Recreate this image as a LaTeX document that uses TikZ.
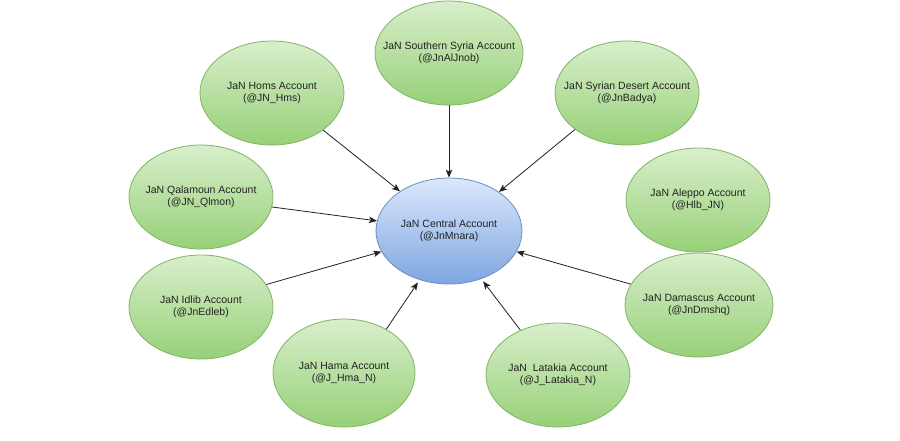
\documentclass[tikz,border=0pt]{standalone}
\usepackage{fontspec}
\setmainfont{Liberation Sans}
\usetikzlibrary{shapes.geometric,arrows.meta}
\definecolor{gtop}{HTML}{D8EFCC}
\definecolor{gbot}{HTML}{97D077}
\definecolor{gline}{HTML}{82B366}
\definecolor{btop}{HTML}{DAE8FC}
\definecolor{bbot}{HTML}{7EA6E0}
\definecolor{bline}{HTML}{6C8EBF}
\definecolor{ink}{HTML}{222222}
\newcommand\twoline[2]{\makebox[0pt][c]{\begin{tabular}{@{}c@{}}#1\\#2\end{tabular}}}
\begin{document}
\begin{tikzpicture}[x=1pt,y=-1pt,
  acct/.style={ellipse, draw=gline, line width=0.8pt, top color=gtop, bottom color=gbot,
    minimum width=144pt, minimum height=104pt, inner sep=0pt,
    font=\fontsize{10.5}{11.7}\selectfont, text=ink},
  central/.style={acct, draw=bline, top color=btop, bottom color=bbot,
    minimum width=146pt, minimum height=106pt},
  link/.style={draw=ink, line width=0.8pt, -{Stealth[length=8pt,width=6.5pt,inset=2pt]}}]
\fill[white] (0,0) rectangle (900,440);
\useasboundingbox (0,0) rectangle (900,440);

\node[acct, minimum width=148pt] (ss) at (449,53) {\twoline{JaN Southern Syria Account}{(@JnAlJnob)}};
\node[acct] (homs) at (272,93) {\twoline{JaN Homs Account}{(@JN\_Hms)}};
\node[acct] (desert) at (627,93) {\twoline{JaN Syrian Desert Account}{(@JnBadya)}};
\node[acct] (qal) at (201,197) {\twoline{JaN Qalamoun Account}{(@JN\_Qlmon)}};
\node[acct] (aleppo) at (698,200) {\twoline{JaN Aleppo Account}{(@Hlb\_JN)}};
\node[central] (cen) at (449,231) {\twoline{JaN Central Account}{(@JnMnara)}};
\node[acct] (idlib) at (201,307) {\twoline{JaN Idlib Account}{(@JnEdleb)}};
\node[acct, minimum width=148pt] (dam) at (699,305) {\twoline{JaN Damascus Account}{(@JnDmshq)}};
\node[acct, minimum width=142pt, minimum height=108pt] (hama) at (344,373) {\twoline{JaN Hama Account}{(@J\_Hma\_N)}};
\node[acct] (lat) at (558,375) {\twoline{JaN\ \ Latakia Account}{(@J\_Latakia\_N)}};

\draw[link] (homs.-36) -- (cen.141);
\draw[link] (ss.270) -- (cen.90);
\draw[link] (desert.215) -- (cen.38);
\draw[link] (qal.-8) -- (cen.172);
\draw[link] (idlib.19) -- (cen.197);
\draw[link] (dam.163) -- (cen.343);
\draw[link, shorten >=3pt] (hama.46) -- (cen.239);
\draw[link, shorten >=3pt] (lat.130) -- (cen.304);
\end{tikzpicture}
\end{document}
